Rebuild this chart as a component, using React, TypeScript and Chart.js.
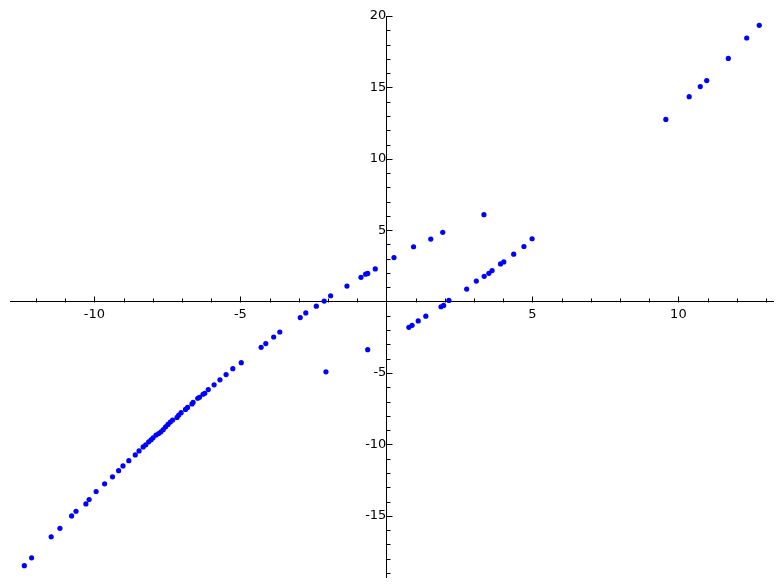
import React, { useEffect, useRef } from 'react';
import { Chart, registerables } from 'chart.js';

Chart.register(...registerables);

// Data points (x, y)
const xValues: number[] = [
  -12.40, -12.15, -11.48, -11.18, -10.78, -10.63, -10.29, -10.18, -9.94, -9.65,
  -9.38, -9.17, -9.02, -8.82, -8.60, -8.47, -8.33, -8.24, -8.14, -8.06,
  -7.99, -7.89, -7.80, -7.72, -7.64, -7.56, -7.48, -7.40, -7.32, -7.17,
  -7.11, -7.03, -6.88, -6.81, -6.66, -6.62, -6.46, -6.40, -6.28, -6.22,
  -6.10, -5.90, -5.70, -5.49, -5.26, -4.97, -4.29, -4.13, -3.86, -3.65,
  -2.95, -2.76, -2.40, -2.13, -1.91, -1.35, -0.87, -0.71, -0.64, -0.38,
  0.26, 0.93, 1.52, 1.93,
  3.34, -2.07, -0.64,
  0.77, 0.88, 1.09, 1.35, 1.87, 1.96, 2.14, 2.75, 3.08, 3.35,
  3.51, 3.62, 3.91, 4.02, 4.36, 4.71, 4.99,
  9.57, 10.37, 10.75, 10.97, 11.71, 12.34, 12.77,
];
const yValues: number[] = [
  -18.49, -17.94, -16.47, -15.88, -15.01, -14.68, -14.17, -13.86, -13.30, -12.76,
  -12.27, -11.84, -11.51, -11.14, -10.74, -10.46, -10.18, -10.03, -9.82, -9.68,
  -9.54, -9.35, -9.24, -9.12, -8.96, -8.77, -8.60, -8.44, -8.30, -8.11,
  -7.95, -7.78, -7.55, -7.41, -7.17, -7.06, -6.77, -6.70, -6.49, -6.42,
  -6.16, -5.83, -5.48, -5.11, -4.70, -4.28, -3.20, -2.94, -2.48, -2.13,
  -1.12, -0.79, -0.32, 0.04, 0.41, 1.09, 1.70, 1.92, 1.97, 2.29,
  3.08, 3.84, 4.38, 4.85,
  6.09, -4.92, -3.37,
  -1.80, -1.66, -1.35, -1.02, -0.36, -0.27, 0.08, 0.88, 1.44, 1.77,
  1.98, 2.17, 2.64, 2.78, 3.32, 3.86, 4.40,
  12.76, 14.35, 15.06, 15.48, 17.03, 18.46, 19.35,
];

const xMajorTicks: number[] = [-10, -5, 5, 10];
const yMajorTicks: number[] = [-15, -10, -5, 5, 10, 15, 20];
const xRange: [number, number] = [-12.89, 13.24];
const yRange: [number, number] = [-19.3, 20];

const FONT = { family: 'DejaVu Sans', size: 13 };

const tickMarks = {
  id: 'tickMarks',
  afterDraw(chart: any) {
    const { ctx, scales } = chart;
    const xs = scales.x;
    const ys = scales.y;
    const x0 = Math.round(xs.getPixelForValue(0)) + 0.5;
    const y0 = Math.round(ys.getPixelForValue(0)) + 0.5;
    ctx.save();
    ctx.strokeStyle = '#000';
    ctx.lineWidth = 1;
    ctx.beginPath();
    for (const t of xs.ticks) {
      const v = t.value;
      if (!Number.isInteger(v) || v === 0) continue;
      const len = v % 5 === 0 ? 6 : 4;
      const px = Math.round(xs.getPixelForValue(v)) + 0.5;
      ctx.moveTo(px, y0);
      ctx.lineTo(px, y0 - len);
    }
    for (const t of ys.ticks) {
      const v = t.value;
      if (!Number.isInteger(v) || v === 0) continue;
      const len = v % 5 === 0 ? 6 : 4;
      const py = Math.round(ys.getPixelForValue(v)) + 0.5;
      ctx.moveTo(x0, py);
      ctx.lineTo(x0 + len, py);
    }
    ctx.stroke();
    ctx.restore();
  },
};

export default function App() {
  const ref = useRef<HTMLCanvasElement | null>(null);

  useEffect(() => {
    if (!ref.current) return;
    const points = xValues.map((x, i) => ({ x, y: yValues[i] }));
    const chart = new Chart(ref.current, {
      type: 'scatter',
      data: {
        datasets: [
          {
            data: points,
            backgroundColor: '#0000ff',
            borderWidth: 0,
            pointRadius: 2.6,
            pointHoverRadius: 2.6,
          },
        ],
      },
      options: {
        animation: false,
        responsive: false,
        devicePixelRatio: 1,
        layout: { padding: { left: 10, right: 11, top: 16, bottom: 2 } },
        plugins: { legend: { display: false }, tooltip: { enabled: false } },
        scales: {
          x: {
            type: 'linear',
            min: xRange[0],
            max: xRange[1],
            position: { y: 0 } as any,
            grid: { display: false, drawTicks: false },
            border: { display: true, color: '#000', width: 1 },
            ticks: {
              stepSize: 1,
              autoSkip: false,
              includeBounds: false,
              maxRotation: 0,
              padding: 5,
              color: '#000',
              font: FONT,
              callback: (v: any) => (xMajorTicks.includes(Number(v)) ? String(v) : ''),
            },
          },
          y: {
            type: 'linear',
            min: yRange[0],
            max: yRange[1],
            position: { x: 0 } as any,
            grid: { display: false, drawTicks: false },
            border: { display: true, color: '#000', width: 1 },
            ticks: {
              stepSize: 1,
              autoSkip: false,
              includeBounds: false,
              padding: 6,
              color: '#000',
              font: FONT,
              callback: (v: any) => (yMajorTicks.includes(Number(v)) ? String(v) : ''),
            },
          },
        },
      },
      plugins: [tickMarks],
    });
    return () => chart.destroy();
  }, []);

  return (
    <div style={{ position: 'absolute', left: 0, top: 0, width: 784, height: 584, overflow: 'hidden', background: '#fff' }}>
      <canvas ref={ref} width={784} height={591} style={{ display: 'block' }} />
    </div>
  );
}
